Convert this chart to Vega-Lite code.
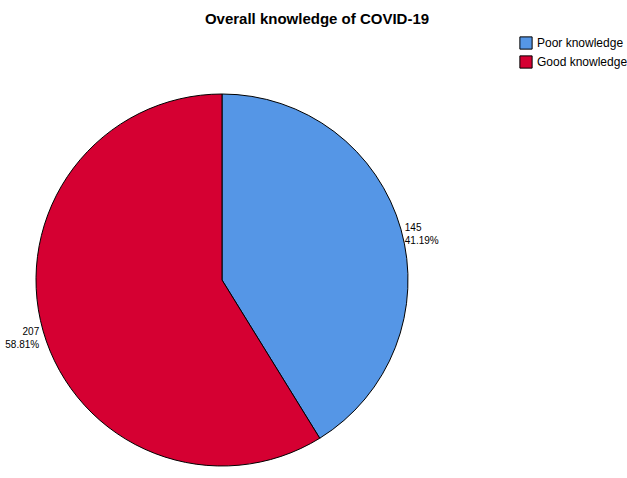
{
  "$schema": "https://vega.github.io/schema/vega-lite/v6.json",
  "autosize": {"type": "none"},
  "padding": {"left": 0, "top": 80, "right": 183, "bottom": -2},
  "width": 444,
  "height": 400,
  "background": "white",
  "title": {
    "text": "Overall knowledge of COVID-19",
    "anchor": "middle",
    "frame": "group",
    "dx": 95,
    "offset": 9,
    "font": "Liberation Sans",
    "fontSize": 15,
    "fontWeight": "bold",
    "color": "black"
  },
  "data": {
    "values": [
      {"knowledge": "Poor knowledge", "count": 145, "percent": "41.19%"},
      {"knowledge": "Good knowledge", "count": 207, "percent": "58.81%"}
    ]
  },
  "encoding": {
    "theta": {"field": "count", "type": "quantitative", "stack": true},
    "order": {"field": "count", "sort": "ascending"}
  },
  "layer": [
    {
      "mark": {"type": "arc", "radius": 186, "stroke": "black", "strokeWidth": 1},
      "encoding": {
        "color": {
          "field": "knowledge",
          "type": "nominal",
          "scale": {
            "domain": ["Poor knowledge", "Good knowledge"],
            "range": ["#5596E6", "#D50032"]
          },
          "legend": {
            "orient": "none",
            "legendX": 519,
            "legendY": -44,
            "title": null,
            "symbolType": "square",
            "symbolSize": 150,
            "symbolStrokeColor": "black",
            "symbolStrokeWidth": 1,
            "symbolOpacity": 1,
            "labelFont": "Liberation Sans",
            "labelFontSize": 12,
            "labelColor": "black",
            "labelOffset": 4,
            "rowPadding": 1
          }
        }
      }
    },
    {
      "mark": {
        "type": "text",
        "radius": 190,
        "dy": 0,
        "align": {"expr": "datum.knowledge == 'Poor knowledge' ? 'left' : 'right'"},
        "baseline": "middle",
        "font": "Liberation Sans",
        "fontSize": 10,
        "color": "black"
      },
      "encoding": {"text": {"field": "count", "type": "quantitative"}}
    },
    {
      "mark": {
        "type": "text",
        "radius": 190,
        "dy": 13,
        "align": {"expr": "datum.knowledge == 'Poor knowledge' ? 'left' : 'right'"},
        "baseline": "middle",
        "font": "Liberation Sans",
        "fontSize": 10,
        "color": "black"
      },
      "encoding": {"text": {"field": "percent", "type": "nominal"}}
    }
  ],
  "config": {"view": {"stroke": null}}
}
